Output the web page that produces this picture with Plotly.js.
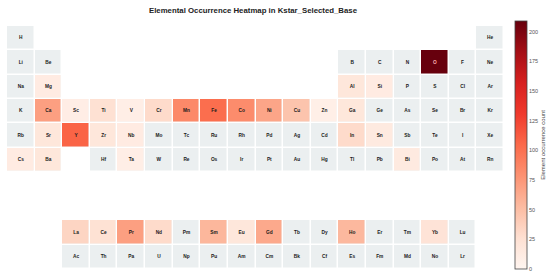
<!DOCTYPE html>
<html><head><meta charset="utf-8">
<script src="https://cdn.plot.ly/plotly-3.0.1.min.js"></script>
<style>html,body{margin:0;padding:0;background:#fff;}#chart{width:550px;height:279px;}</style>
</head><body><div id="chart"></div>
<script>
// Element symbols, group (column) and table row
const symbols = ['H','He',
 'Li','Be','B','C','N','O','F','Ne',
 'Na','Mg','Al','Si','P','S','Cl','Ar',
 'K','Ca','Sc','Ti','V','Cr','Mn','Fe','Co','Ni','Cu','Zn','Ga','Ge','As','Se','Br','Kr',
 'Rb','Sr','Y','Zr','Nb','Mo','Tc','Ru','Rh','Pd','Ag','Cd','In','Sn','Sb','Te','I','Xe',
 'Cs','Ba','Hf','Ta','W','Re','Os','Ir','Pt','Au','Hg','Tl','Pb','Bi','Po','At','Rn',
 'La','Ce','Pr','Nd','Pm','Sm','Eu','Gd','Tb','Dy','Ho','Er','Tm','Yb','Lu',
 'Ac','Th','Pa','U','Np','Pu','Am','Cm','Bk','Cf','Es','Fm','Md','No','Lr'];
const groups = [1,18,
 1,2,13,14,15,16,17,18,
 1,2,13,14,15,16,17,18,
 1,2,3,4,5,6,7,8,9,10,11,12,13,14,15,16,17,18,
 1,2,3,4,5,6,7,8,9,10,11,12,13,14,15,16,17,18,
 1,2,4,5,6,7,8,9,10,11,12,13,14,15,16,17,18,
 3,4,5,6,7,8,9,10,11,12,13,14,15,16,17,
 3,4,5,6,7,8,9,10,11,12,13,14,15,16,17];
const rows = [0,0,
 1,1,1,1,1,1,1,1,
 2,2,2,2,2,2,2,2,
 3,3,3,3,3,3,3,3,3,3,3,3,3,3,3,3,3,3,
 4,4,4,4,4,4,4,4,4,4,4,4,4,4,4,4,4,4,
 5,5,5,5,5,5,5,5,5,5,5,5,5,5,5,5,5,
 8,8,8,8,8,8,8,8,8,8,8,8,8,8,8,
 9,9,9,9,9,9,9,9,9,9,9,9,9,9,9];
// Occurrence counts (elements not listed = 0)
const countSymbols = ['O','Y','Fe','Mn','Co','Ca','Ni','Cu','Pr','Gd','Sm','Ho','La','Cr','In','Nd','Ti','Ce','Yb','Eu','Mg','Al','Si','Sc','V','Zn','Ga','Sr','Zr','Nb','Cs','Ba','Sn','Bi','Ta'];
const countValues  = [209,108,102,84,82,70,66,46,70,64,55,54,34,30,30,30,25,24,22,18,12,18,12,10,9,8,18,18,18,12,12,18,14,14,9];

const NR = 10, NC = 18;
const xs = Array.from({length:NC},(_,i)=>i+1);
const ys = Array.from({length:NR},(_,i)=>i);
const bg = ys.map(()=>xs.map(()=>null));
const zz = ys.map(()=>xs.map(()=>null));
const cmap = {};
countSymbols.forEach((s,i)=>cmap[s]=countValues[i]);
symbols.forEach((s,i)=>{
  bg[rows[i]][groups[i]-1] = 0;
  const v = cmap[s] || 0;
  if (v > 0) zz[rows[i]][groups[i]-1] = v;
});
const darkIdx = [], lightIdx = [];
symbols.forEach((s,i)=>((cmap[s]||0) > 160 ? lightIdx : darkIdx).push(i));

const reds = [[0,'#fff5f0'],[0.125,'#fee0d2'],[0.25,'#fcbba1'],[0.375,'#fc9272'],[0.5,'#fb6a4a'],[0.625,'#f03a2c'],[0.75,'#d7201f'],[0.875,'#a50f15'],[1,'#67000d']];
const fam = 'Liberation Sans, Arial, sans-serif';

const traces = [
 {type:'heatmap', x:xs, y:ys, z:bg, colorscale:[[0,'#ebeff0'],[1,'#ebeff0']], showscale:false, xgap:1.5, ygap:1.5, hoverinfo:'skip'},
 {type:'heatmap', x:xs, y:ys, z:zz, colorscale:reds, zmin:0, zmax:209, xgap:1.5, ygap:1.5,
  colorbar:{thickness:12, len:248, lenmode:'pixels', x:1.022, xanchor:'left',
   y:0, yanchor:'bottom', xpad:0, ypad:0,
   outlinewidth:0.8, outlinecolor:'#444', tickvals:[0,25,50,75,100,125,150,175,200], ticks:'',
   tickfont:{size:5.5, color:'#555', family:fam},
   title:{text:'Element occurrence count', side:'right', font:{size:6, color:'#444', family:fam}}}},
 {type:'scatter', mode:'text', x:darkIdx.map(i=>groups[i]), y:darkIdx.map(i=>rows[i]), text:darkIdx.map(i=>symbols[i]),
  textfont:{size:4.8, color:'#1a1a1a', family:fam, weight:'bold'}, hoverinfo:'skip', showlegend:false},
 {type:'scatter', mode:'text', x:lightIdx.map(i=>groups[i]), y:lightIdx.map(i=>rows[i]), text:lightIdx.map(i=>symbols[i]),
  textfont:{size:4.8, color:'#ffb0b0', family:fam, weight:'bold'}, hoverinfo:'skip', showlegend:false}
];
const layout = {
  width:550, height:279,
  margin:{l:7, r:46, t:26, b:10, autoexpand:false},
  paper_bgcolor:'#fff', plot_bgcolor:'#fff',
  title:{text:'<b>Elemental Occurrence Heatmap in Kstar_Selected_Base</b>', x:0.46, xanchor:'center', y:0.972, yanchor:'top',
    font:{size:7.8, color:'#222', family:fam}},
  xaxis:{range:[0.5,18.5], visible:false, fixedrange:true},
  yaxis:{range:[9.5,-0.5], visible:false, fixedrange:true},
  showlegend:false
};
Plotly.newPlot('chart', traces, layout, {staticPlot:true});
</script></body></html>
